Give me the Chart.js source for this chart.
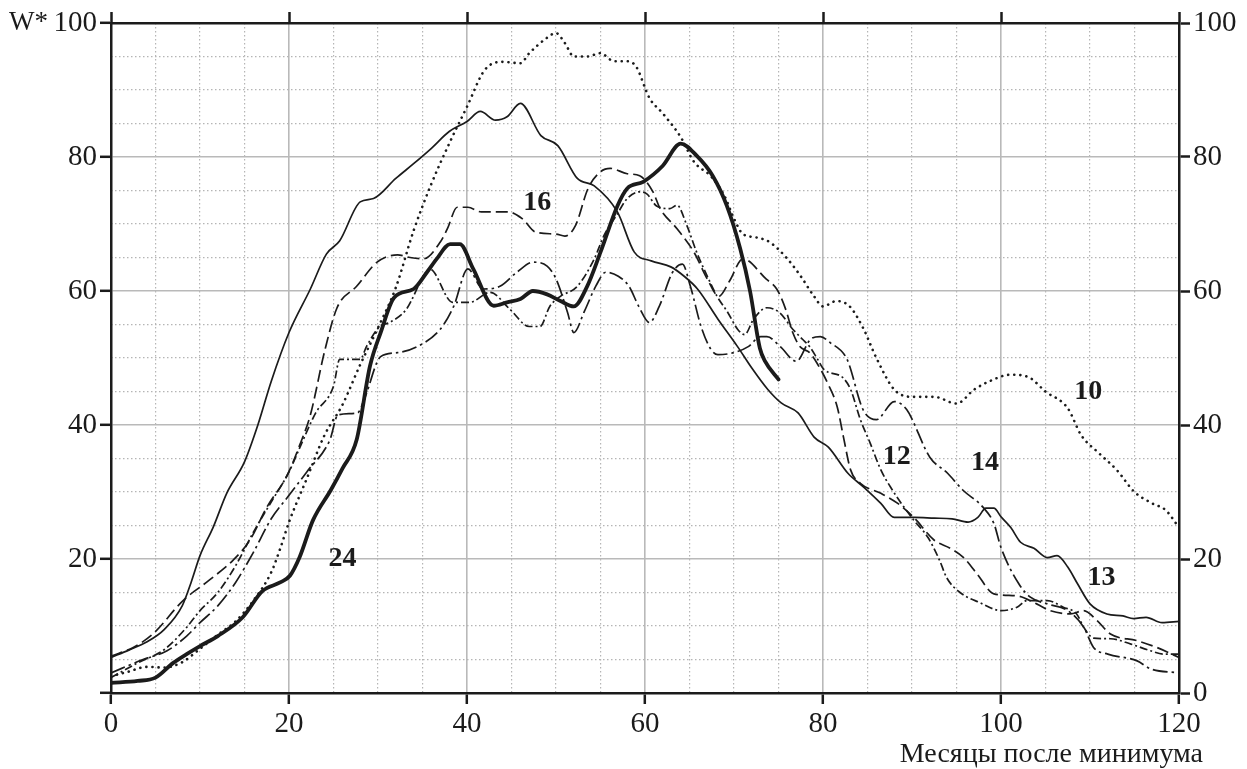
<!DOCTYPE html>
<html><head><meta charset="utf-8">
<script src="https://cdn.jsdelivr.net/npm/chart.js@4/dist/chart.umd.min.js"></script>
<style>html,body{margin:0;padding:0;background:#fff;}canvas{display:block;}</style>
</head><body>
<canvas id="c" width="1247" height="769"></canvas>
<script>
// ---- data (months after minimum, W*) ----
const m10 = [0,2,4,6,8,10,12,14,16,18,19,20,22,24,26,28,30,32,34,36,38,40,42,44,46,47,49,50,51,52,53.5,55,56.5,58,59,60.5,62,64,65.5,67.5,69,70,71,72.5,74,76,77.5,79,80,81.5,83,84.5,86,88,90,92.5,95,97,99,101,103,105,107.5,109,111,113,115,117,118.5,120];
const w10 = [2.5,3.2,3.9,3.8,4.6,6.6,8.7,10.7,13.8,18,21.5,25.5,32,38.5,43,49,54.5,60.5,69,76,82,87.5,93,94.2,94,95.5,97.8,98.5,97,95,95,95.5,94.3,94.3,93.5,88.8,86.5,83,79.3,77,74,70.8,68.5,68,67.3,64.8,62.2,59.2,57.7,58.5,57.7,54.5,50,45.3,44.2,44.2,43.2,45.3,46.7,47.5,47.2,45,42.5,38.5,35.8,33.3,30,28.3,27.3,24.7];

const m12 = [0,3,6,8.5,10,12,14,16,18,20,21.2,23,25,25.7,28,28.7,30.2,31.3,33.2,35.1,35.8,38.4,40.3,42.6,44.8,47,48.2,49.3,50.5,52.4,54.3,55.4,56.8,58,59.4,60.2,61.3,62.8,63.6,64.7,65.8,67,68.1,69.3,70.4,71.2,72.2,73.7,75.1,76.6,77.7,78.5,79.4,80.1,82.2,83.1,84.2,85.3,86.5,87.6,88.8,90.2,91.8,93.1,93.9,95.4,97.6,100,101.8,102.9,105.2,107,108.5,109.3,110.4,112.3,114.6,116.8,118.3,120];
const w12 = [2.3,4.5,6.5,9.8,12.3,15,19,24,28.5,33,36.6,41.8,45.8,49.8,49.8,51.7,54.7,55.3,57.3,62.2,63.3,58.3,58.3,59.8,57.3,54.7,54.7,57.7,59.2,60.7,64.8,68.3,71.3,73.8,74.8,74.5,72.7,72.3,72.8,69.8,65.8,62.2,59.2,56.8,54.3,53.5,55.8,57.5,56.8,54.3,52.8,51.7,49.8,48.3,47.1,45.3,40.8,37.3,33.3,30.7,28.3,25.8,23.2,19.8,17.2,15,13.5,12.3,12.8,13.8,13.8,12.8,11.8,9.8,8.2,8.1,7.3,6.3,5.8,5.8];

const m13 = [0,2,4,6,8,9,10,11.5,13,15,16.5,18,20,22.4,24.2,25.7,28,29.5,32,34,36,38,40,41.5,43.2,44.5,46,48.3,50.2,52.4,54.3,56.9,58.8,60.7,62.9,64.4,65.9,68.2,70.4,72,73.8,75.3,77.2,79,80.6,82.8,84.6,86.5,88,90.3,92.5,94.5,96.3,97.4,98.3,99.2,100,101.1,102.2,103.7,105.2,106.3,107.5,108.6,110,111.9,113.7,114.9,116.3,118.1,120];
const w13 = [5.3,6.4,7.6,9.5,13,16.5,20.5,24.8,29.8,34.5,40,46.5,53.8,60.3,65.5,67.5,73.3,73.8,76.8,79,81.3,83.8,85.3,86.8,85.5,86,88,83.2,81.7,76.8,75.7,71.8,65.8,64.5,63.6,62.2,60.3,55.8,51.7,48.5,45.3,43.3,41.8,38.2,36.7,32.8,30.7,28.3,26.2,26.2,26.1,26,25.5,26.2,27.6,27.6,26.3,24.7,22.5,21.6,20.2,20.5,18.8,16.3,13.3,11.8,11.5,11.1,11.3,10.5,10.7];

const m14 = [0,3.6,6.3,8.5,10,12,14,16,18,20,22,24.6,25.5,27.7,28.5,30.3,32.2,34.4,37,38.5,40.1,41.8,43.7,45.6,47.4,49,50,51.3,52,53.2,54.5,55.6,57,58.2,59.3,60.5,61.6,63.1,64.2,65.1,66.3,67.4,68.2,70,71.6,73,73.7,75.2,77,78.6,79.7,80.8,82.7,84.5,86,88,89.4,92,94,95.7,98,99.2,100,102,103.3,105.2,107.5,109.3,110.4,112,115.3,116.8,120];
const w14 = [3,5,6.3,8.5,10.5,13,16.5,21,26,29.5,33,37.8,41.5,41.8,44,50.2,50.8,51.7,54.3,57.7,63.3,60.3,60.7,62.8,64.3,63.7,61.8,56.8,53.8,57,60.8,62.8,62.2,60.7,57.7,55.3,57.7,62.8,64,60.7,54.7,51.3,50.5,50.8,51.7,53.2,53.2,51.7,49.5,52.8,53.2,52.3,49.8,42.3,40.8,43.5,42.3,35.2,32.8,30.3,27.7,25.3,21.7,16.3,14.3,13.3,12.3,9.8,6.8,5.8,4.8,3.6,3];

const m16 = [0,2.5,4.7,8.1,11,13.7,15.6,17.5,19.8,21.2,22.4,24,25.4,27.6,29.9,32.2,33.6,35.1,37,37.8,38.9,40.1,41.6,44.6,46.2,47.7,50,51,52.2,53.6,55,56.1,58,59.4,60.9,61.7,63.6,65.5,67,68.3,69.5,71,73.6,74.8,75.8,76.6,77.4,78.5,79.3,80.5,81.6,82.3,83.1,84.2,86.5,88.4,90.2,92.5,94.3,95.8,97.3,99.2,101.8,104,105.5,107.8,109.3,110.8,112.3,115.3,117.5,120];
const w16 = [5.5,6.8,8.8,13.8,16.8,19.8,22.8,27.7,32.5,37,41.5,51,57.5,60.7,64.3,65.4,65,64.8,67.3,69.3,72.5,72.5,71.8,71.8,70.8,68.8,68.5,68.2,69.8,75.3,77.8,78.3,77.5,77.2,74.8,72.3,69.3,65.8,61.8,59.2,61.5,64.8,61.8,60.3,57.3,53.8,51.7,50.8,49.3,46.3,42.7,38.2,33.3,31.3,29.8,28.3,26.2,22.8,21.6,20.2,17.8,14.8,14.5,13.3,12.3,11.8,12.3,10.8,8.8,7.8,6.8,5.3];

const m24 = [0,3,5,7,8.5,10,12,14.8,17,19,20.1,21.2,22.7,24.7,26,27.6,29.1,30.3,31.8,34,35.5,36.6,38.1,39.2,40.7,43,44.5,46,47.4,49,50.5,52,53.5,55,56.9,58,59.8,62,64,65.8,67.6,69.2,70.7,71.8,72.9,73.5,75];
const w24 = [1.5,1.8,2.3,4.5,5.8,7,8.5,11.3,15.2,16.5,17.5,20.3,25.8,30.3,33.5,37.8,48.8,53.8,59,60.3,62.8,64.8,67,67,63.3,57.8,58.3,58.8,60,59.5,58.5,57.7,60.7,65.8,72.7,75.3,76.3,78.7,82,80.2,77.2,72.7,66.3,60,51.5,49.5,46.8];

const cycleNames = ['10','12','13','14','16','24'];
const xTicks = [0,20,40,60,80,100,120];
const yTicks = [0,20,40,60,80,100];
const xTitle = 'Месяцы после минимума';
const yTitle = 'W*';

// ---- presentation ----
const INK = '#1b1b1b';
const FONT = "'Liberation Serif','Times New Roman',serif";
const seriesData = {'10':[m10,w10],'12':[m12,w12],'13':[m13,w13],'14':[m14,w14],'16':[m16,w16],'24':[m24,w24]};
const styles = {
  '10': {w:2.6, dash:[0.1,6], cap:'round'},
  '12': {w:1.7, dash:[8,3,2,3], cap:'butt'},
  '13': {w:1.7, dash:[], cap:'round'},
  '14': {w:1.7, dash:[15,4,2.5,4], cap:'butt'},
  '16': {w:1.7, dash:[12,5], cap:'butt'},
  '24': {w:3.8, dash:[], cap:'round'}
};
// label anchor points (in data units)
const labelAt = {'10':[109.8,44.9],'12':[88.3,35.2],'13':[111.3,17.2],'14':[98.2,34.3],'16':[47.9,73.1],'24':[26,20.1]};

const datasets = cycleNames.map(n => {
  const [mx, wy] = seriesData[n];
  return {
    label: n,
    data: mx.map((m, i) => ({x: m, y: wy[i]})),
    borderColor: INK,
    borderWidth: styles[n].w,
    borderDash: styles[n].dash,
    borderCapStyle: styles[n].cap,
    borderJoinStyle: 'round',
    pointRadius: 0,
    fill: false,
    cubicInterpolationMode: 'monotone'
  };
});

const textPlugin = {
  id: 'texts',
  afterDatasetsDraw(chart) {
    const c = chart.ctx, xs = chart.scales.x, ys = chart.scales.y;
    c.save();
    c.fillStyle = INK;
    c.font = 'bold 28px ' + FONT;
    c.textAlign = 'center'; c.textBaseline = 'middle';
    cycleNames.forEach(n => {
      const p = labelAt[n];
      c.fillText(n, xs.getPixelForValue(p[0]), ys.getPixelForValue(p[1]));
    });
    c.restore();
  },
  afterDraw(chart) {
    const c = chart.ctx, ys = chart.scales.y;
    c.save();
    c.fillStyle = INK;
    c.font = '27px ' + FONT;
    c.textAlign = 'left'; c.textBaseline = 'middle';
    c.fillText(yTitle, 9, ys.getPixelForValue(100));
    c.font = '28px ' + FONT;
    c.textAlign = 'right'; c.textBaseline = 'alphabetic';
    c.fillText(xTitle, 1203, 762);
    c.restore();
  }
};

const tickFont = {family: FONT, size: 29};
const majorGrid = {color: '#b9b9b9', lineWidth: 1.6, tickColor: INK, tickWidth: 2.5, tickLength: 11};
const minorGridColor = ctx => (ctx.tick && ctx.tick.value % 20 === 0) ? 'rgba(0,0,0,0)' : '#b5b5b5';

new Chart(document.getElementById('c'), {
  type: 'line',
  data: {datasets},
  options: {
    responsive: false, animation: false,
    layout: {padding: 0},
    plugins: {legend: {display: false}, tooltip: {enabled: false}},
    scales: {
      x: {
        type: 'linear', position: 'bottom', min: 0, max: 120,
        afterBuildTicks: s => { s.ticks = xTicks.map(v => ({value: v})); },
        ticks: {font: tickFont, color: INK, padding: 3, maxRotation: 0, autoSkip: false},
        grid: majorGrid, border: {color: INK, width: 2.5},
        afterFit: s => { s.height = 76; }
      },
      xMinor: {
        type: 'linear', position: 'bottom', min: 0, max: 120,
        ticks: {display: false, stepSize: 5, autoSkip: false},
        grid: {color: minorGridColor, lineWidth: 1.2, drawTicks: false},
        border: {display: false, dash: [1.5, 2.5]},
        afterFit: s => { s.height = 0; }
      },
      xTop: {
        type: 'linear', position: 'top', min: 0, max: 120,
        afterBuildTicks: s => { s.ticks = xTicks.map(v => ({value: v})); },
        ticks: {display: false},
        grid: {drawOnChartArea: false, tickColor: INK, tickWidth: 2.5, tickLength: 11},
        border: {color: INK, width: 2.5},
        afterFit: s => { s.height = 23; }
      },
      y: {
        type: 'linear', position: 'left', min: 0, max: 100,
        afterBuildTicks: s => { s.ticks = yTicks.map(v => ({value: v})); },
        ticks: {font: tickFont, color: INK, padding: 3, callback: v => v === 0 ? '' : String(v)},
        grid: majorGrid, border: {color: INK, width: 2.5},
        afterFit: s => { s.width = 111; }
      },
      yMinor: {
        type: 'linear', position: 'left', min: 0, max: 100,
        ticks: {display: false, stepSize: 5, autoSkip: false},
        grid: {color: minorGridColor, lineWidth: 1.2, drawTicks: false},
        border: {display: false, dash: [1.5, 2.5]},
        afterFit: s => { s.width = 0; }
      },
      yRight: {
        type: 'linear', position: 'right', min: 0, max: 100,
        afterBuildTicks: s => { s.ticks = yTicks.map(v => ({value: v})); },
        ticks: {font: tickFont, color: INK, padding: 3},
        grid: {drawOnChartArea: false, tickColor: INK, tickWidth: 2.5, tickLength: 11},
        border: {color: INK, width: 2.5},
        afterFit: s => { s.width = 68; }
      }
    }
  },
  plugins: [textPlugin]
});
</script>
</body></html>
